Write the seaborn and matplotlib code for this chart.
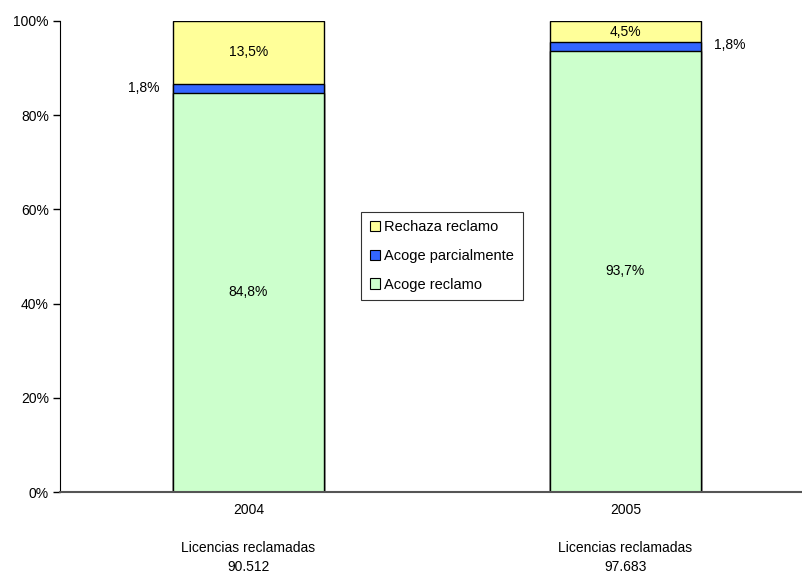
import numpy as np
import pandas as pd
import seaborn as sns
import matplotlib.pyplot as plt
from matplotlib.patches import Patch

years = ["2004", "2005"]
totals = ["90.512", "97.683"]
acoge = [84.8, 93.7]
parcial = [1.8, 1.8]
rechaza = [13.5, 4.5]

series_names = ["Rechaza reclamo", "Acoge parcialmente", "Acoge reclamo"]
colors = {"Acoge reclamo": "#CCFFCC", "Acoge parcialmente": "#3366FF", "Rechaza reclamo": "#FFFF99"}

sns.set_style("white")
plt.rcParams["font.family"] = ["Liberation Sans", "DejaVu Sans"]
plt.rcParams["font.size"] = 10
plt.rcParams["text.color"] = "black"
plt.rcParams["xtick.color"] = "black"
plt.rcParams["ytick.color"] = "black"

df = pd.DataFrame({"year": years, "acoge": acoge, "parcial": parcial, "rechaza": rechaza})
df["top_parcial"] = df["acoge"] + df["parcial"]
df["top_rechaza"] = df["top_parcial"] + df["rechaza"]

fig = plt.figure(figsize=(8.03, 5.76), dpi=100)
ax = fig.add_axes([60 / 803, 84 / 576, (814 - 60) / 803, (492 - 21) / 576])

# stacked look: draw cumulative heights from the top down
sns.barplot(data=df, x="year", y="top_rechaza", color=colors["Rechaza reclamo"], width=0.4,
            edgecolor="black", linewidth=1, saturation=1, ax=ax)
sns.barplot(data=df, x="year", y="top_parcial", color=colors["Acoge parcialmente"], width=0.4,
            edgecolor="black", linewidth=1, saturation=1, ax=ax)
sns.barplot(data=df, x="year", y="acoge", color=colors["Acoge reclamo"], width=0.4,
            edgecolor="black", linewidth=1, saturation=1, ax=ax)

ax.set_ylim(0, 100)
ax.set_xlim(-0.5, 1.5)
ax.set_yticks(np.arange(0, 101, 20))
ax.set_yticklabels([f"{v}%" for v in range(0, 101, 20)])
ax.set_xticks(range(len(years)))
ax.set_xticklabels([f"{y}\n\nLicencias reclamadas\n{t}" for y, t in zip(years, totals)], linespacing=1.45)
ax.set_xticks([-0.5, 0.5, 1.5], minor=True)
ax.tick_params(axis="x", which="major", length=0, pad=8)
ax.tick_params(axis="x", which="minor", length=5, width=1, color="black", direction="out")
ax.tick_params(axis="y", length=5, width=1, color="black", direction="out", pad=3, left=True)
ax.set_xlabel("")
ax.set_ylabel("")
for s in ["top", "right"]:
    ax.spines[s].set_visible(False)
ax.spines["left"].set_color("black")
ax.spines["bottom"].set_color("#555555")
ax.spines["bottom"].set_linewidth(1.5)

fmt = lambda v: f"{v:.1f}%".replace(".", ",")
for i in range(len(years)):
    ax.text(i, acoge[i] / 2, fmt(acoge[i]), ha="center", va="center")
    ax.text(i, df["top_parcial"][i] + rechaza[i] / 2, fmt(rechaza[i]), ha="center", va="center")
ax.text(-0.235, df["top_parcial"][0] - 0.9, fmt(parcial[0]), ha="right", va="center")
ax.text(1.235, df["top_parcial"][1] - 0.6, fmt(parcial[1]), ha="left", va="center")

handles = [Patch(facecolor=colors[n], edgecolor="black", linewidth=0.8) for n in series_names]
leg = ax.legend(handles, series_names, loc="center", bbox_to_anchor=((442 - 60) / 754, (492 - 256) / 471),
                frameon=True, fancybox=False, edgecolor="black", handlelength=0.7, handleheight=0.7,
                handletextpad=0.3, labelspacing=1.0, borderpad=0.6, fontsize=10.5)
leg.get_frame().set_linewidth(0.8)

fig.savefig("out.png", dpi=100)
